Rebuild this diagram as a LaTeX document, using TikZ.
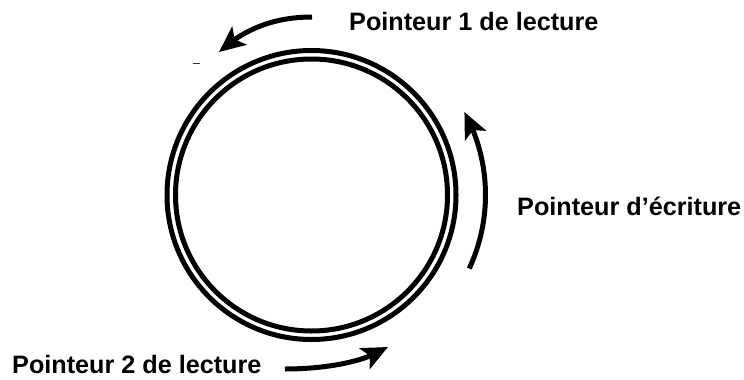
\documentclass[tikz,border=0pt]{standalone}
\usepackage{fontspec}
\setmainfont{Liberation Sans}
\usetikzlibrary{arrows.meta,bending}
\begin{document}
\begin{tikzpicture}[x=1pt,y=-1pt,
  ring/.style={line width=5pt},
  curvarrow/.style={line width=5pt,-{Stealth[length=26pt,width=23pt,inset=6pt]}},
  lbl/.style={font=\fontsize{25.2}{30}\selectfont\bfseries,inner sep=0pt,anchor=base west}]
\useasboundingbox (0,0) rectangle (744,380);
\coordinate (c) at (311.5,195);
\draw[ring] (c) circle[radius=144.5];
\draw[ring] (c) circle[radius=136];
% top arrow
\coordinate (t1) at (312,17);
\coordinate (t2) at (219,52);
\draw[curvarrow] (t1) .. controls (276,17) and (245,28) .. (t2);
% right arrow
\draw[curvarrow] (c) ++(25:174) coordinate (r1) arc[start angle=25,end angle=-28.5,radius=174] coordinate (r2);
% bottom arrow
\coordinate (b1) at (285,369);
\coordinate (b2) at (388,347);
\draw[curvarrow] (b1) .. controls (318,369) and (362,364) .. (b2);
% small dash
\coordinate (d1) at (193,63);
\coordinate (d2) at (200,63);
\draw[line width=1pt,black!80] (d1) -- (d2);
\node[lbl] (l1) at (349,30) {Pointeur 1 de lecture};
\node[lbl] (l2) at (517,215) {Pointeur d’écriture};
\node[lbl] (l3) at (12,373) {Pointeur 2 de lecture};
\end{tikzpicture}
\end{document}
